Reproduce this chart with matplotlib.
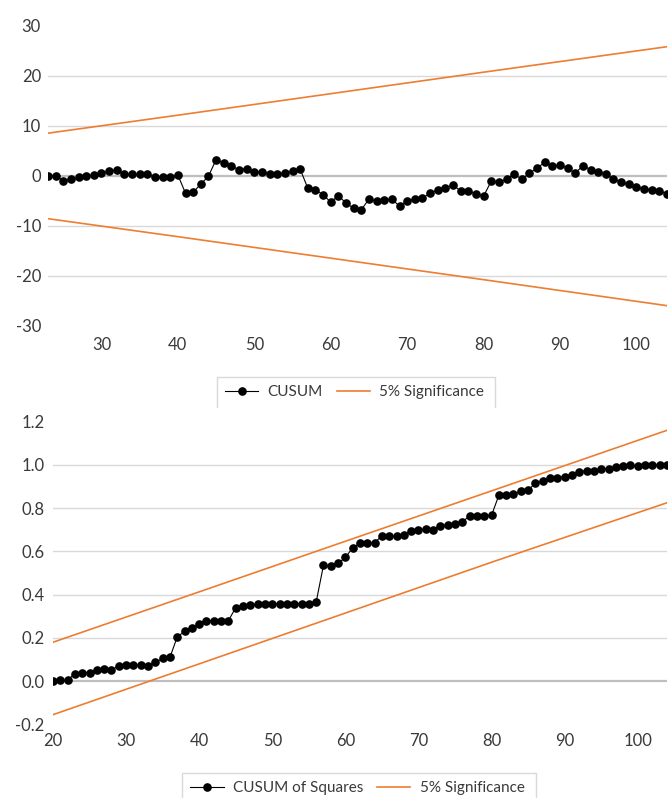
import numpy as np
import matplotlib
matplotlib.use("Agg")
import matplotlib.pyplot as plt
from matplotlib.lines import Line2D

plt.rcParams['font.family'] = ['Lato', 'DejaVu Sans']
plt.rcParams['axes.unicode_minus'] = False

# CUSUM (top chart)
cusum_x = list(range(23, 105))
cusum = [0.0, 0.0, -1.0, -0.7, -0.3, 0.0, 0.1, 0.5, 0.9, 1.1,
         0.3, 0.3, 0.3, 0.3, -0.3, -0.3, -0.3, 0.1, -3.5, -3.3,
         -1.7, -0.1, 3.2, 2.5, 1.9, 1.2, 1.4, 0.8, 0.7, 0.4,
         0.4, 0.5, 0.9, 1.3, -2.5, -2.8, -3.8, -5.3, -4.0, -5.5,
         -6.5, -6.8, -4.7, -5.1, -4.9, -4.7, -6.1, -5.1, -4.7, -4.5,
         -3.5, -2.9, -2.5, -1.8, -3.1, -3.1, -3.6, -4.1, -1.1, -1.3,
         -0.7, 0.3, -0.7, 0.5, 1.5, 2.7, 1.9, 2.1, 1.5, 0.5,
         2.0, 1.2, 0.8, 0.4, -0.7, -1.3, -1.7, -2.3, -2.7, -2.8,
         -3.1, -3.6]
cusum_bx = [23, 40, 60, 80, 104]
cusum_upper = [8.5, 12.1, 16.4, 20.7, 25.8]
cusum_lower = [-8.6, -12.2, -16.5, -20.8, -26.0]

# CUSUM of squares (bottom chart)
sq_x = list(range(20, 105))
cusum_sq = [0.0, 0.005, 0.005, 0.035, 0.04, 0.04, 0.05, 0.055, 0.053, 0.07,
            0.075, 0.075, 0.073, 0.072, 0.087, 0.105, 0.11, 0.205, 0.23, 0.247,
            0.265, 0.28, 0.28, 0.28, 0.28, 0.34, 0.347, 0.352, 0.355, 0.355,
            0.355, 0.358, 0.358, 0.358, 0.358, 0.358, 0.365, 0.535, 0.532, 0.545,
            0.572, 0.617, 0.637, 0.64, 0.64, 0.673, 0.67, 0.67, 0.674, 0.695,
            0.70, 0.703, 0.70, 0.718, 0.724, 0.727, 0.736, 0.765, 0.764, 0.764,
            0.767, 0.86, 0.86, 0.866, 0.878, 0.884, 0.915, 0.927, 0.94, 0.94,
            0.946, 0.955, 0.967, 0.974, 0.974, 0.98, 0.98, 0.989, 0.995, 0.998,
            0.995, 0.998, 1.0, 1.0, 1.0]
sq_bx = [20, 40, 60, 80, 104]
sq_upper = [0.18, 0.413, 0.647, 0.88, 1.16]
sq_lower = [-0.155, 0.08, 0.315, 0.55, 0.825]

ORANGE = "#ED7D31"
GRID = "#D9D9D9"
AXIS = "#BFBFBF"
TXT = "#3a3a3a"


def style(ax, grid_vals):
    for v in grid_vals:
        ax.axhline(v, color=GRID, lw=1.0, zorder=0)
    ax.axhline(0, color=AXIS, lw=1.6, zorder=1)
    for s in ax.spines.values():
        s.set_visible(False)
    ax.tick_params(length=0, labelsize=12, labelcolor=TXT)


fig = plt.figure(figsize=(6.69, 7.98), dpi=100)

ax1 = fig.add_axes([0.0717, 0.5919, 0.9253, 0.3759])
style(ax1, [20, 10, -10, -20])
ax1.plot(cusum_bx, cusum_upper, color=ORANGE, lw=1.2, zorder=2)
ax1.plot(cusum_bx, cusum_lower, color=ORANGE, lw=1.2, zorder=2)
ax1.plot(cusum_x, cusum, color="black", lw=0.8, marker="o", ms=5.2, zorder=3)
ax1.set_xlim(23, 104)
ax1.set_ylim(-30, 30)
ax1.set_yticks([30, 20, 10, 0, -10, -20, -30])
ax1.set_xticks(range(30, 101, 10))
ax1.tick_params(axis="x", pad=8)
ax1.tick_params(axis="y", pad=5)

ax2 = fig.add_axes([0.0792, 0.0922, 0.9178, 0.3794])
style(ax2, [0.2, 0.4, 0.6, 0.8, 1.0])
ax2.plot(sq_bx, sq_upper, color=ORANGE, lw=1.2, zorder=2)
ax2.plot(sq_bx, sq_lower, color=ORANGE, lw=1.2, zorder=2)
ax2.plot(sq_x, cusum_sq, color="black", lw=0.8, marker="o", ms=5.2, zorder=3)
ax2.set_xlim(20, 104)
ax2.set_ylim(-0.2, 1.2)
ax2.set_yticks(np.round(np.arange(-0.2, 1.21, 0.2), 1))
ax2.set_yticklabels([f"{v:.1f}" for v in np.round(np.arange(-0.2, 1.21, 0.2), 1)])
ax2.set_xticks(range(20, 101, 10))
ax2.tick_params(axis="x", pad=6)
ax2.tick_params(axis="y", pad=6)

# legends
h_black = Line2D([], [], color="black", lw=0.8, marker="o", ms=5.2)
h_orange = Line2D([], [], color=ORANGE, lw=1.2)
leg_kw = dict(ncol=2, frameon=False, fontsize=11, handlelength=2.2,
              handletextpad=0.6, columnspacing=0.9, loc="center", labelcolor=TXT)
fig.legend([h_black, h_orange], ["CUSUM", "5% Significance"],
           bbox_to_anchor=(0.530, 0.5088), **leg_kw)
fig.legend([h_black, h_orange], ["CUSUM of Squares", "5% Significance"],
           bbox_to_anchor=(0.534, 0.0125), **leg_kw)


def frame(x0, x1, ytop, ybot):
    W, H = 669.0, 798.0
    xs = [x0 / W, x0 / W, x1 / W, x1 / W]
    ys = [1 - ybot / H, 1 - ytop / H, 1 - ytop / H, 1 - ybot / H]
    fig.add_artist(Line2D(xs, ys, color=GRID, lw=1.0, transform=fig.transFigure))


frame(217, 495, 377, 407)
frame(182, 536, 773, 800)

plt.savefig("out.png", dpi=100)
